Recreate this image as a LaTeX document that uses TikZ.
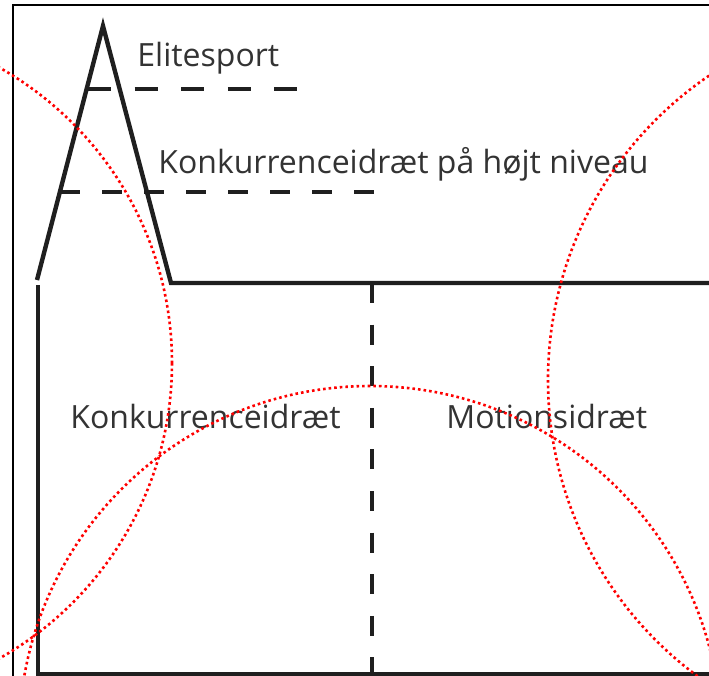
\documentclass[tikz,border=0pt]{standalone}
\usepackage{fontspec}
\setmainfont{Open Sans}

\begin{document}
\begin{tikzpicture}[x=0.5pt,y=-0.5pt,
  thickline/.style={line width=2.2pt,black!88},
  framestroke/.style={line width=1pt,black},
  dashline/.style={line width=1.6pt,black!88},
  markcircle/.style={red,line width=1.3pt,dash pattern=on 1.3pt off 1.5pt},
  sporttext/.style={anchor=base west,inner sep=0pt,text=black!80,
    font=\fontsize{16}{19}\selectfont}]

% Keep the size of the reference
\useasboundingbox (0,0) rectangle (709,676);

% Points of the outline
\coordinate (foot) at (37,280);
\coordinate (peak) at (103,26);
\coordinate (base) at (171,283);
\coordinate (rim) at (709,283);
\coordinate (axistop) at (38,285);
\coordinate (origin) at (38,674);
\coordinate (axisend) at (709,674);
\coordinate (splittop) at (372,283);
\coordinate (splitend) at (372,676);

% Draw the frame
\draw[framestroke] (13,676) -- (13,5) -- (709,5);

% Draw the peak and the plateau
\draw[thickline] (foot) -- (peak) -- (base) -- (rim);

% Draw the axes
\draw[thickline] (axistop) -- (origin) -- (axisend);

% Levels inside the peak
\draw[dashline,dash pattern=on 11.5pt off 11.8pt] (88,89) -- (297,89);
\draw[dashline,dash pattern=on 10pt off 11pt] (60,192) -- (375,192);

% Border between the two kinds of sport
\draw[dashline,dash pattern=on 10pt off 10.8pt] (splittop) -- (splitend);

% Labels
\node[sporttext] (elite) at (137,66) {Elitesport};
\node[sporttext] (highlevel) at (158,173) {Konkurrenceidræt på højt niveau};
\node[sporttext] (competition) at (70,428) {Konkurrenceidræt};
\node[sporttext] (exercise) at (446,428) {Motionsidræt};

% Red dotted circles
\begin{scope}
\clip (0,0) rectangle (709,676);
\draw[markcircle] (-167,363) circle [radius=339];
\draw[markcircle] (370,737) circle [radius=351];
\draw[markcircle] (916,380) circle [radius=368];
\end{scope}

\end{tikzpicture}
\end{document}
